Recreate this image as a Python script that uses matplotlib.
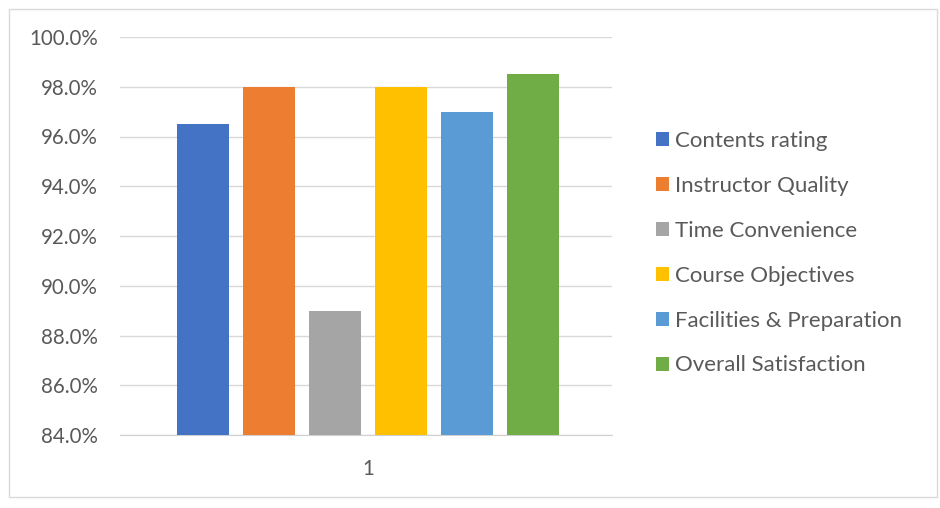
import matplotlib.pyplot as plt
import matplotlib.patches as patches
from matplotlib.ticker import FuncFormatter

# survey results, one category ("1")
series = ["Contents rating", "Instructor Quality", "Time Convenience",
          "Course Objectives", "Facilities & Preparation", "Overall Satisfaction"]
values = [96.5, 98.0, 89.0, 98.0, 97.0, 98.5]
colors = ["#4472C4", "#ED7D31", "#A5A5A5", "#FFC000", "#5B9BD5", "#70AD47"]
category = "1"

plt.rcParams['font.family'] = ['Lato', 'DejaVu Sans']

fig = plt.figure(figsize=(9.4, 5.08), dpi=100)
ax = fig.add_axes([120 / 940, 1 - 435 / 508, 492 / 940, 398 / 508])

for i, (name, v, c) in enumerate(zip(series, values, colors)):
    ax.bar(i, v - 84, bottom=84, width=0.79, color=c, label=name, zorder=3)

ax.set_ylim(84, 100)
ax.set_yticks(range(84, 101, 2))
ax.yaxis.set_major_formatter(FuncFormatter(lambda y, p: f"{y:.1f}%"))
ax.set_xlim(-1.258, 6.197)
ax.set_xticks([2.5])
ax.set_xticklabels([category])

ax.grid(axis='y', color='#d9d9d9', linewidth=1, zorder=0)
for s in ['top', 'right', 'left']:
    ax.spines[s].set_visible(False)
ax.spines['bottom'].set_color('#d0d0d0')
ax.tick_params(axis='both', length=0, labelsize=14.8, labelcolor='#595959')
ax.tick_params(axis='y', pad=16)
ax.tick_params(axis='x', pad=17)

leg = fig.legend(loc='upper left', bbox_to_anchor=(636 / 940, 1 - 111 / 508),
                 frameon=False, fontsize=16, labelspacing=1.12,
                 handlelength=0.6, handleheight=0.6, handletextpad=0.27)
for t in leg.get_texts():
    t.set_color('#595959')

fig.patches.append(patches.Rectangle((9 / 940, 1 - 497 / 508), 928 / 940, 488 / 508,
                                     transform=fig.transFigure, fill=False,
                                     edgecolor='#d9d9d9', linewidth=1))

fig.savefig("out.png", dpi=100)
